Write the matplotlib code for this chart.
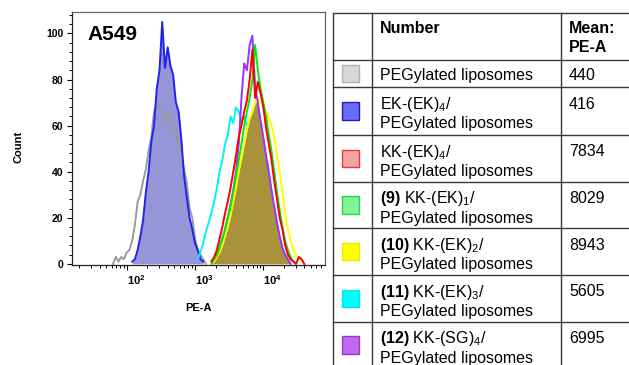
import numpy as np
import matplotlib

matplotlib.use("Agg")
import matplotlib.pyplot as plt
from matplotlib.patches import Rectangle
from matplotlib.ticker import FixedLocator, LogLocator, MultipleLocator, NullFormatter

plt.rcParams["font.family"] = ["Liberation Sans", "DejaVu Sans"]
plt.rcParams["mathtext.fontset"] = "custom"
plt.rcParams["mathtext.rm"] = "Liberation Sans"
plt.rcParams["mathtext.it"] = "Liberation Sans:italic"
plt.rcParams["mathtext.bf"] = "Liberation Sans:bold"
plt.rcParams["mathtext.default"] = "regular"

# Histogram channels on a log10(PE-A) grid; counts.
LOG_START = 1.80
LOG_STEP = 0.04
N_CH = 72

gray_start = 1.80
gray_counts = [0, 3, 1, 3, 2, 5, 6, 10, 17, 27, 30, 36, 41, 49, 55, 66, 70, 67,
               64, 61, 66, 64, 60, 57, 52, 47, 41, 35, 24, 20, 11, 6, 4, 2, 0]
blue_start = 2.08
blue_counts = [1, 2, 6, 12, 19, 31, 40, 53, 60, 76, 84, 105, 85, 94, 86, 82, 70,
               66, 54, 38, 29, 20, 15, 9, 6, 2, 1]
cyan_start = 3.04
cyan_counts = [2, 5, 9, 14, 18, 22, 27, 33, 40, 45, 52, 56, 64, 61, 68, 66, 62,
               64, 60, 62, 56, 52, 47, 40, 34, 27, 21, 15, 10, 6, 3, 1]
red_start = 3.24
red_counts = [1, 3, 6, 11, 16, 22, 27, 33, 40, 47, 55, 60, 66, 71, 80, 93, 72,
              79, 74, 68, 59, 52, 45, 36, 28, 20, 15, 8, 4, 2, 1, 0, 3, 2, 0]
green_start = 3.24
green_counts = [0, 2, 4, 7, 11, 15, 20, 25, 31, 38, 45, 52, 60, 66, 72, 80, 95,
                84, 76, 70, 64, 56, 49, 40, 31, 23, 16, 10, 6, 3, 1, 0]
yellow_start = 3.28
yellow_counts = [1, 3, 5, 8, 12, 16, 21, 27, 33, 40, 46, 52, 58, 63, 66, 70, 72,
                 70, 68, 66, 63, 60, 55, 47, 40, 31, 22, 15, 10, 6, 4, 2, 2, 0]
purple_start = 3.24
purple_counts = [1, 2, 4, 7, 11, 15, 20, 26, 32, 40, 52, 72, 87, 84, 95, 99, 77,
                 70, 62, 55, 47, 40, 32, 25, 18, 12, 7, 4, 2, 0]

# Table content
samples = [
    "PEGylated liposomes",
    "EK-(EK)$_4$/\nPEGylated liposomes",
    "KK-(EK)$_4$/\nPEGylated liposomes",
    r"$\mathbf{(9)}$ KK-(EK)$_1$/" + "\nPEGylated liposomes",
    r"$\mathbf{(10)}$ KK-(EK)$_2$/" + "\nPEGylated liposomes",
    r"$\mathbf{(11)}$ KK-(EK)$_3$/" + "\nPEGylated liposomes",
    r"$\mathbf{(12)}$ KK-(SG)$_4$/" + "\nPEGylated liposomes",
]
mean_pe = [440, 416, 7834, 8029, 8943, 5605, 6995]
swatch_face = ["#d8d8d8", "#6b6bf5", "#f4a3a3", "#7ef596", "#ffff00", "#00ffff", "#c466f0"]
swatch_edge = ["#b0b0b0", "#1a1acc", "#e03c3c", "#2ed14c", "#e8e800", "#00e8e8", "#8a3fc4"]

W, H = 629, 365
fig = plt.figure(figsize=(W / 100, H / 100), dpi=100)
ax = fig.add_axes([72 / W, 1 - 265 / H, 253 / W, 253 / H])


def channel_x(start, n):
    i0 = int(round((start - LOG_START) / LOG_STEP))
    return 10 ** (LOG_START + LOG_STEP * np.arange(i0, i0 + n))


def on_grid(start, counts):
    full = np.zeros(N_CH)
    i0 = int(round((start - LOG_START) / LOG_STEP))
    full[i0:i0 + len(counts)] = counts
    return full


grid_x = 10 ** (LOG_START + LOG_STEP * np.arange(N_CH))

# shaded overlap of the right-hand group (covers the cyan trace underneath)
overlap = np.min([on_grid(red_start, red_counts), on_grid(green_start, green_counts),
                  on_grid(yellow_start, yellow_counts), on_grid(purple_start, purple_counts)], axis=0)
ax.fill_between(grid_x, 0, overlap, color="#a8923c", lw=0, zorder=3.5)
bx = channel_x(blue_start, len(blue_counts))
ax.fill_between(bx, 0, blue_counts, color="#9595d8", lw=0, zorder=1)

lines = [
    (gray_start, gray_counts, "#9a9a9a", 2),
    (blue_start, blue_counts, "#2222ee", 2.5),
    (cyan_start, cyan_counts, "#00f4f4", 3),
    (yellow_start, yellow_counts, "#ffff00", 4),
    (purple_start, purple_counts, "#9933ff", 5),
    (green_start, green_counts, "#00ee00", 6),
    (red_start, red_counts, "#ff0000", 7),
]
for start, counts, col, z in lines:
    ax.plot(channel_x(start, len(counts)), counts, color=col, lw=1.4, zorder=z)

ax.set_xscale("log")
ax.set_xlim(10 ** 1.199, 10 ** 4.903)
ax.set_ylim(-0.5, 109.3)
ax.xaxis.set_major_locator(FixedLocator([1e2, 1e3, 1e4]))
ax.xaxis.set_minor_locator(LogLocator(base=10, subs=np.arange(2, 10)))
ax.xaxis.set_minor_formatter(NullFormatter())
ax.set_xticklabels([r"$\mathbf{10^{2}}$", r"$\mathbf{10^{3}}$", r"$\mathbf{10^{4}}$"])
for lab in ax.get_xticklabels():
    lab.set_horizontalalignment("left")
ax.yaxis.set_major_locator(MultipleLocator(20))
ax.yaxis.set_minor_locator(MultipleLocator(4))
ax.tick_params(axis="both", which="major", direction="out", length=3.6, width=0.8, pad=2.5)
ax.tick_params(axis="both", which="minor", direction="out", length=2.2, width=0.7)
ax.tick_params(axis="x", labelsize=8)
ax.tick_params(axis="y", labelsize=7.5)
for lab in ax.get_yticklabels():
    lab.set_fontweight("bold")
for side, sp in ax.spines.items():
    sp.set_linewidth(0.9)
    sp.set_color("#222222" if side in ("left", "bottom") else "#666666")

fig.text(18 / W, 1 - 147 / H, "Count", rotation=90, ha="center", va="center",
         fontsize=8, fontweight="bold")
fig.text(199 / W, 1 - 308 / H, "PE-A", ha="center", va="center", fontsize=8, fontweight="bold")
fig.text(87 / W, 1 - 40 / H, "A549", ha="left", va="baseline", fontsize=15, fontweight="bold")

# Table drawn in pixel coordinates
tab = fig.add_axes([0, 0, 1, 1])
tab.set_xlim(0, W)
tab.set_ylim(H, 0)
tab.axis("off")
row_tops = [12.7, 60, 87.3, 135, 181.7, 228.3, 275, 321.7, 368.4]
col_x = [333.3, 371.7, 560.7]
line_kw = dict(color="#3a3a3a", lw=1.0)
for y in row_tops:
    tab.plot([col_x[0], W + 20], [y, y], **line_kw)
for x in col_x:
    tab.plot([x, x], [row_tops[0], H + 10], **line_kw)

tab.text(380, 33, "Number", ha="left", va="baseline", fontsize=11.5, fontweight="bold")
tab.text(569, 33, "Mean:", ha="left", va="baseline", fontsize=11.5, fontweight="bold")
tab.text(569, 52, "PE-A", ha="left", va="baseline", fontsize=11.5, fontweight="bold")

for i, (label, val) in enumerate(zip(samples, mean_pe)):
    top, bot = row_tops[i + 1], row_tops[i + 2]
    parts = label.split("\n")
    base = top + (20 if len(parts) == 1 else 21.5)
    for j, part in enumerate(parts):
        tab.text(380, base + 19.5 * j, part, ha="left", va="baseline", fontsize=11.5)
    tab.text(569, base, str(val), ha="left", va="baseline", fontsize=11.5)
    yc = (top + bot) / 2
    tab.add_patch(Rectangle((341.7, yc - 8.8), 17.6, 17.6, facecolor=swatch_face[i],
                            edgecolor=swatch_edge[i], lw=1.0))

fig.savefig("out.png", dpi=100)
